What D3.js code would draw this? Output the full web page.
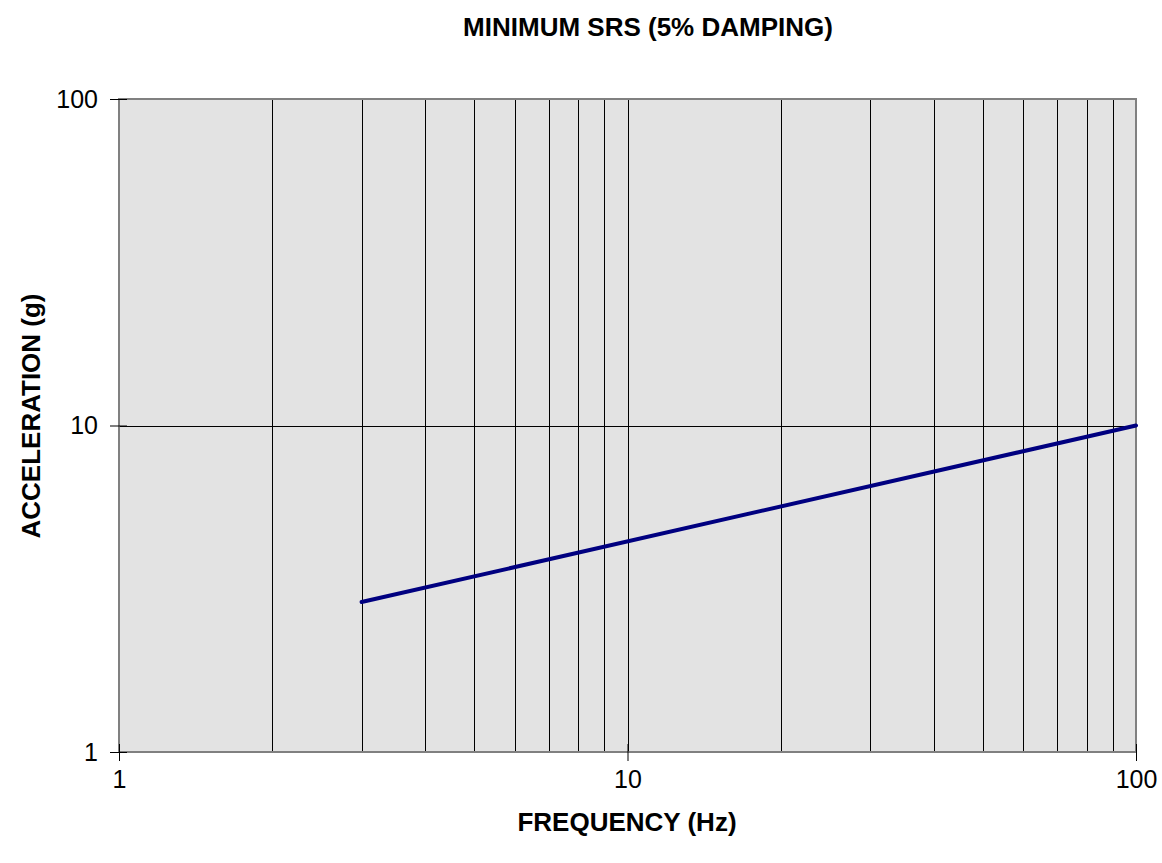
<!DOCTYPE html>
<html>
<head>
<meta charset="utf-8">
<script src="https://cdn.jsdelivr.net/npm/d3@7"></script>
<style>
  body { margin: 0; background: #fff; }
  text { font-family: "Liberation Sans", Arial, sans-serif; }
</style>
</head>
<body>
<div id="chart"></div>
<script>
// chart data
var freqs = [3, 100];          // Hz
var accels = [2.88, 10];       // g
var xTicks = [1, 10, 100];
var yTicks = [1, 10, 100];
var xGrid = [2, 3, 4, 5, 6, 7, 8, 9, 10, 20, 30, 40, 50, 60, 70, 80, 90];
var yGrid = [10];

var svgWidth = 1162;
var svgHeight = 863;

var margin = { top: 99, right: 26, bottom: 111, left: 119 };
var width = svgWidth - margin.left - margin.right;
var height = svgHeight - margin.top - margin.bottom;

var svg = d3.select("#chart")
  .append("svg")
  .attr("width", svgWidth)
  .attr("height", svgHeight);

var chartGroup = svg.append("g")
  .attr("transform", `translate(${margin.left}, ${margin.top})`);

var xScale = d3.scaleLog().domain([1, 100]).range([0, width]);
var yScale = d3.scaleLog().domain([1, 100]).range([height, 0]);

// plot background
chartGroup.append("rect")
  .attr("width", width)
  .attr("height", height)
  .attr("fill", "#e3e3e3");

// grid lines
chartGroup.append("g").selectAll("line")
  .data(xGrid)
  .enter()
  .append("line")
  .attr("x1", d => Math.round(xScale(d)) + 0.5)
  .attr("x2", d => Math.round(xScale(d)) + 0.5)
  .attr("y1", 0)
  .attr("y2", height)
  .attr("stroke", "#000")
  .attr("stroke-width", 1);

chartGroup.append("g").selectAll("line")
  .data(yGrid)
  .enter()
  .append("line")
  .attr("x1", 0)
  .attr("x2", width)
  .attr("y1", d => Math.round(yScale(d)) + 0.5)
  .attr("y2", d => Math.round(yScale(d)) + 0.5)
  .attr("stroke", "#000")
  .attr("stroke-width", 1);

// plot border
chartGroup.append("rect")
  .attr("width", width)
  .attr("height", height)
  .attr("fill", "none")
  .attr("stroke", "#808080")
  .attr("stroke-width", 2);

// axes
var bottomAxis = d3.axisBottom(xScale)
  .tickValues(xTicks)
  .tickFormat(d3.format("d"))
  .tickSizeInner(9)
  .tickSizeOuter(0)
  .tickPadding(9);
var leftAxis = d3.axisLeft(yScale)
  .tickValues(yTicks)
  .tickFormat(d3.format("d"))
  .tickSizeInner(9)
  .tickSizeOuter(0)
  .tickPadding(12);

var xAxisG = chartGroup.append("g")
  .attr("transform", `translate(0, ${height})`)
  .call(bottomAxis);
var yAxisG = chartGroup.append("g")
  .call(leftAxis);

// ticks cross the axis
xAxisG.selectAll(".tick line").attr("y1", -8);
yAxisG.selectAll(".tick line").attr("x1", 8);

[xAxisG, yAxisG].forEach(function(g) {
  g.select(".domain").remove();
  g.selectAll("line").attr("stroke", "#000").attr("stroke-width", 1);
  g.selectAll("text")
    .attr("font-family", "'Liberation Sans', Arial, sans-serif")
    .attr("font-size", "25px")
    .attr("fill", "#000");
});

// data line
var line = d3.line()
  .x(d => xScale(d[0]))
  .y(d => yScale(d[1]));

chartGroup.append("path")
  .datum(d3.zip(freqs, accels))
  .attr("d", line)
  .attr("fill", "none")
  .attr("stroke", "#000080")
  .attr("stroke-width", 4)
  .attr("stroke-linecap", "round");

// title and axis labels
svg.append("text")
  .attr("x", 648)
  .attr("y", 36)
  .attr("text-anchor", "middle")
  .attr("font-size", "26px")
  .style("font-weight", "bold")
  .text("MINIMUM SRS (5% DAMPING)");

svg.append("text")
  .attr("x", 627)
  .attr("y", 831)
  .attr("text-anchor", "middle")
  .attr("font-size", "26px")
  .style("font-weight", "bold")
  .text("FREQUENCY (Hz)");

svg.append("text")
  .attr("transform", "rotate(-90)")
  .attr("x", -416)
  .attr("y", 40)
  .attr("text-anchor", "middle")
  .attr("font-size", "26px")
  .style("font-weight", "bold")
  .text("ACCELERATION (g)");
</script>
</body>
</html>
